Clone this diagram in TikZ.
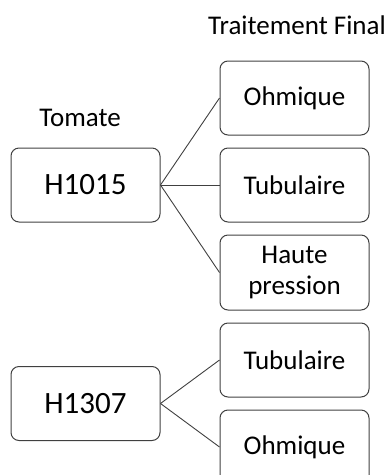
\documentclass[tikz,border=0pt]{standalone}
\usepackage{fontspec}
\setmainfont{Carlito}
\usepackage{tikz}
\usetikzlibrary{positioning, calc}

\begin{document}
\begin{tikzpicture}[
    x=1pt, y=1pt,
    node distance=12pt,
    tbox/.style={rectangle, draw=black!75, line width=1pt, rounded corners=8pt, align=center, minimum width=149pt, minimum height=74pt, inner sep=2pt, font=\fontsize{27}{31}\selectfont},
    hbox/.style={tbox, font=\fontsize{31}{36}\selectfont},
    ttitle/.style={inner sep=0pt, font=\fontsize{27}{31}\selectfont},
    link/.style={draw=black!75, line width=0.9pt}
]
\useasboundingbox (0,0) rectangle (391,-475);

\node[tbox] (ohm_a) at (294.5,-98) {Ohmique};
\node[tbox, below=of ohm_a] (tub_a) {Tubulaire};
\node[tbox, below=of tub_a, minimum height=75pt] (haute) {Haute\\pression};
\node[tbox, below=of haute] (tub_b) {Tubulaire};
\node[tbox, below=of tub_b] (ohm_b) {Ohmique};

\node[hbox, left=59pt of tub_a] (h1015) {H1015};
\node[hbox, left=59pt of $(tub_b.west)!0.5!(ohm_b.west)$] (h1307) {H1307};

\node[ttitle] (tomate) at (80,-118) {Tomate};
\node[ttitle] (final) at (297,-25) {Traitement Final};

\draw[link] (h1015.east) -- (ohm_a.west);
\draw[link] (h1015.east) -- (tub_a.west);
\draw[link] (h1015.east) -- (haute.west);
\draw[link] (h1307.east) -- (tub_b.west);
\draw[link] (h1307.east) -- (ohm_b.west);

\end{tikzpicture}
\end{document}
